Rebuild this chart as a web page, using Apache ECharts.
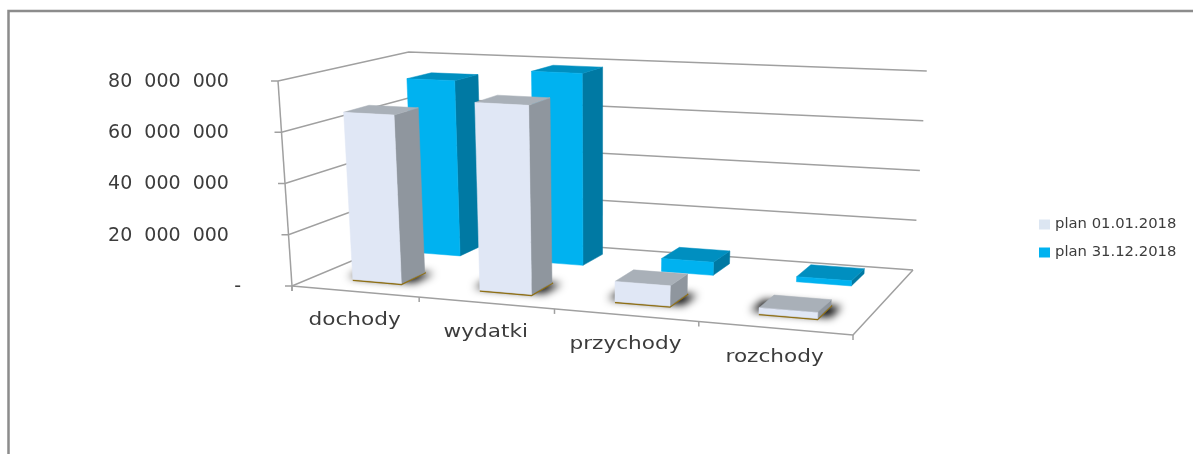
<!DOCTYPE html>
<html>
<head>
<meta charset="utf-8">
<title>plan</title>
<style>
html, body { margin: 0; padding: 0; background: #fff; }
#main { width: 1193px; height: 454px; }
</style>
<script src="https://cdn.jsdelivr.net/npm/echarts@6/dist/echarts.min.js"></script>
</head>
<body>
<div id="main"></div>
<script>
var categories = ['dochody', 'wydatki', 'przychody', 'rozchody'];
var planStart = [66000000, 72600000, 7600000, 2200000];
var planEnd = [72800000, 78000000, 5200000, 2000000];
var yTicks = [0, 20000000, 40000000, 60000000, 80000000];
var xBoundaries = [0, 1, 2, 3, 4];

var seriesNames = ['plan 01.01.2018', 'plan 31.12.2018'];

// floor of the chart box as seen in the picture: front left, front right, back right, back left
var floorQuad = [[292, 286], [853, 335], [913, 270], [416, 234]];
// box height at the same four corners
var boxHeights = [205, 222, 199, 182];
// verticals of the box run to this point far below the chart
var VANISH_X = 600, VANISH_Y = 4800;

var GRID_LEFT = 241, GRID_TOP = 82, GRID_WIDTH = 560, GRID_HEIGHT = 205;
var LINE_COLOR = '#a0a0a0';
var TEXT_COLOR = '#3c3c3c';

// maps the unit square onto a quad (perspective)
function quadMap(q) {
    var x0 = q[0][0], y0 = q[0][1], x1 = q[1][0], y1 = q[1][1];
    var x2 = q[2][0], y2 = q[2][1], x3 = q[3][0], y3 = q[3][1];
    var dx1 = x1 - x2, dx2 = x3 - x2, sx = x0 - x1 + x2 - x3;
    var dy1 = y1 - y2, dy2 = y3 - y2, sy = y0 - y1 + y2 - y3;
    var den = dx1 * dy2 - dx2 * dy1;
    var g = (sx * dy2 - dx2 * sy) / den;
    var h = (dx1 * sy - sx * dy1) / den;
    var a = x1 - x0 + g * x1, b = x3 - x0 + h * x3;
    var d = y1 - y0 + g * y1, e = y3 - y0 + h * y3;
    return function (u, w) {
        var t = g * u + h * w + 1;
        return [(a * u + b * w + x0) / t, (d * u + e * w + y0) / t];
    };
}
var floorMap = quadMap(floorQuad);

function project(u, v, w) {
    var f = floorMap(u, w);
    var front = boxHeights[0] + (boxHeights[1] - boxHeights[0]) * u;
    var back = boxHeights[3] + (boxHeights[2] - boxHeights[3]) * u;
    var h = (front + (back - front) * w) * v;
    return [f[0] + (f[0] - VANISH_X) * h / (VANISH_Y - f[1]), f[1] - h];
}

// axis pixel -> box coordinates
function toBox(api, cat, val) {
    var p = api.coord([cat, val]);
    return { u: (p[0] - GRID_LEFT) / GRID_WIDTH, v: (GRID_TOP + GRID_HEIGHT - p[1]) / GRID_HEIGHT };
}

function poly(points, fill) {
    return {
        type: 'polygon',
        shape: { points: points },
        style: { fill: fill, stroke: fill, lineWidth: 0.5 }
    };
}

// soft floor shadow: the shape itself sits off the canvas, only its blur lands on the floor
function softShadow(points) {
    var OFF = 3000;
    return {
        type: 'polygon',
        shape: { points: points.map(function (p) { return [p[0] - OFF, p[1]]; }) },
        style: { fill: '#000', shadowColor: '#000', shadowBlur: 8, shadowOffsetX: OFF }
    };
}

function barRenderer(row) {
    return function (params, api) {
        var box = toBox(api, api.value(0), api.value(1));
        var half = row.width / 2 * (api.size([1, 0])[0] / GRID_WIDTH);
        var u0 = box.u - half, u1 = box.u + half;
        var w0 = row.w0, w1 = row.w1, v = box.v;
        var fl = project(u0, 0, w0), fr = project(u1, 0, w0), br = project(u1, 0, w1);
        var tfl = project(u0, v, w0), tfr = project(u1, v, w0);
        var tbr = project(u1, v, w1), tbl = project(u0, v, w1);
        var children = [];
        if (row.shadow) {
            var du = 0.018, dw = 0.03;
            children.push(softShadow([
                project(u0 - du, 0, w0 + dw), project(u1 + du, 0, w0 + dw),
                project(u1 + du, 0, w1), project(u0 - du, 0, w1)
            ]));
            children.push({
                type: 'polyline',
                shape: { points: [[fl[0], fl[1] + 1], [fr[0], fr[1] + 1], [br[0] + 1, br[1]]] },
                style: { stroke: '#8f7016', lineWidth: 1.5, fill: null }
            });
        }
        children.push(poly([tfr, fr, br, tbr], row.side));
        children.push(poly([tfl, tfr, tbr, tbl], row.top));
        children.push(poly([tfl, fl, fr, tfr], row.front));
        return { type: 'group', children: children };
    };
}

function line(points, width) {
    return {
        type: 'polyline',
        shape: { points: points },
        style: { stroke: LINE_COLOR, lineWidth: width || 1.5, fill: null }
    };
}

// wall grid lines, one per y tick
function renderWallLine(params, api) {
    var v = toBox(api, 0, api.value(0)).v;
    var a = project(0, v, 0), b = project(0, v, 1), c = project(1, v, 1);
    var kids = [line([[a[0] - 7, a[1]], a, b, c])];
    if (v === 0) {
        kids.push(line([a, project(0, 1, 0)]));
        kids.push(line([[a[0], a[1] + 5], a]));
        var d = project(1, 0, 0);
        kids.push(line([a, d, c]));
    }
    return { type: 'group', children: kids };
}

function renderBoundary(params, api) {
    var u = api.value(0) / categories.length;
    var p = project(u, 0, 0);
    return line([p, [p[0], p[1] + 5]]);
}

function renderCategoryLabel(params, api) {
    var i = api.value(0);
    var u = toBox(api, i, 0).u;
    var p = project(u, 0, 0);
    return {
        type: 'text',
        x: p[0],
        y: p[1] + 29,
        scaleX: 1.2,
        style: {
            text: categories[i],
            x: 0,
            y: 0,
            align: 'center',
            verticalAlign: 'middle',
            fontFamily: 'DejaVu Sans',
            fontSize: 18,
            fill: TEXT_COLOR
        }
    };
}

function pairs(values) {
    return values.map(function (v, i) { return [i, v]; });
}

var rowStart = { w0: 0.17, w1: 0.36, width: 0.39, front: '#e0e7f5', side: '#8f969e', top: '#a9b0b8', shadow: true };
var rowEnd = { w0: 0.67, w1: 0.88, width: 0.39, front: '#00b2f0', side: '#0079a3', top: '#008fc0', shadow: false };

var option = {
    animation: false,
    backgroundColor: '#fff',
    graphic: [{
        type: 'polyline',
        silent: true,
        shape: { points: [[8.5, 454], [8.5, 11], [1193, 11]] },
        style: { stroke: '#8c8c8c', lineWidth: 2.5, fill: null }
    }],
    legend: {
        orient: 'vertical',
        left: 1034,
        top: 212,
        icon: 'rect',
        itemWidth: 11,
        itemHeight: 10,
        itemGap: 13,
        data: [
            { name: seriesNames[0], itemStyle: { color: '#dce6f2' } },
            { name: seriesNames[1], itemStyle: { color: '#00b2f0' } }
        ],
        textStyle: { fontFamily: 'DejaVu Sans', fontSize: 14.8, color: TEXT_COLOR }
    },
    grid: { left: GRID_LEFT, top: GRID_TOP, width: GRID_WIDTH, height: GRID_HEIGHT },
    xAxis: {
        type: 'category',
        data: categories,
        show: false
    },
    yAxis: {
        type: 'value',
        min: 0,
        max: 80000000,
        interval: 20000000,
        splitLine: { show: false },
        axisLine: { show: false },
        axisTick: { show: false },
        axisLabel: {
            margin: 0,
            fontFamily: 'DejaVu Sans',
            fontSize: 19,
            color: TEXT_COLOR,
            formatter: function (v) {
                if (v === 0) { return '-'; }
                return String(v).replace(/\B(?=(\d{3})+$)/g, '\u2007') + '\u00a0\u00a0';
            }
        }
    },
    series: [
        {
            name: 'walls',
            type: 'custom',
            silent: true,
            data: yTicks.map(function (t) { return [t]; }),
            encode: { y: 0 },
            renderItem: renderWallLine,
            z: 1
        },
        {
            name: 'boundaries',
            type: 'custom',
            silent: true,
            data: xBoundaries.map(function (t) { return [t]; }),
            encode: { x: 0 },
            renderItem: renderBoundary,
            z: 1
        },
        {
            name: seriesNames[1],
            type: 'custom',
            itemStyle: { color: '#00b2f0' },
            data: pairs(planEnd),
            encode: { x: 0, y: 1 },
            renderItem: barRenderer(rowEnd),
            z: 2
        },
        {
            name: seriesNames[0],
            type: 'custom',
            itemStyle: { color: '#dce6f2' },
            data: pairs(planStart),
            encode: { x: 0, y: 1 },
            renderItem: barRenderer(rowStart),
            z: 3
        },
        {
            name: 'labels',
            type: 'custom',
            silent: true,
            data: categories.map(function (c, i) { return [i]; }),
            encode: { x: 0 },
            renderItem: renderCategoryLabel,
            z: 4
        }
    ]
};

var myChart = echarts.init(document.getElementById('main'));
myChart.setOption(option);
</script>
</body>
</html>
